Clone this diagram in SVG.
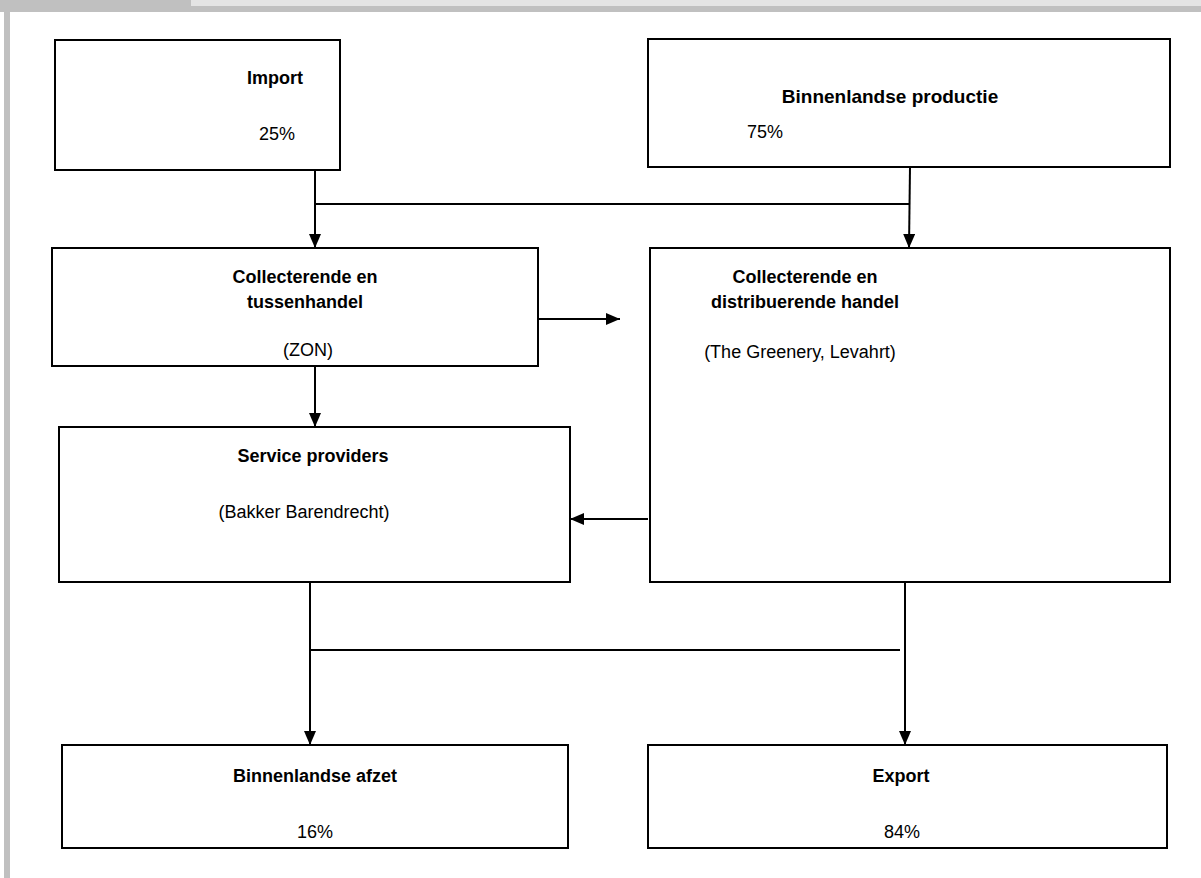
<svg xmlns="http://www.w3.org/2000/svg" width="1201" height="878" viewBox="0 0 1201 878">
<defs>
<marker id="ah" viewBox="0 0 14 12" refX="14" refY="6" markerWidth="14" markerHeight="12" markerUnits="userSpaceOnUse" orient="auto">
<path d="M0,0 L14,6 L0,12 Z" fill="#000"/>
</marker>
<style>
.box{fill:#fff;stroke:#000;stroke-width:2}
.t{font-family:"Liberation Sans",Arial,sans-serif;font-size:18px;fill:#000}
.b{font-weight:bold}
.c{stroke:#000;stroke-width:2;fill:none}
</style>
</defs>
<rect x="0" y="0" width="1201" height="878" fill="#fff"/>
<rect x="0" y="0" width="1201" height="12" fill="#c0c0c0"/>
<rect x="191" y="0" width="1010" height="6" fill="#e4e4e4"/>
<rect x="4" y="0" width="6" height="878" fill="#c0c0c0"/>

<g id="connectors">
<line class="c" x1="315" y1="170" x2="315" y2="248" marker-end="url(#ah)"/>
<line class="c" x1="315" y1="204" x2="910" y2="204"/>
<line class="c" x1="910" y1="167" x2="909" y2="248" marker-end="url(#ah)"/>
<line class="c" x1="538" y1="319" x2="620" y2="319" marker-end="url(#ah)"/>
<line class="c" x1="315" y1="366" x2="315" y2="427" marker-end="url(#ah)"/>
<line class="c" x1="648" y1="519" x2="570" y2="519" marker-end="url(#ah)"/>
<line class="c" x1="310" y1="582" x2="310" y2="745" marker-end="url(#ah)"/>
<line class="c" x1="905" y1="582" x2="905" y2="745" marker-end="url(#ah)"/>
<line class="c" x1="310" y1="650" x2="900" y2="650"/>
</g>

<g id="import">
<rect class="box" x="55" y="40" width="285" height="130"/>
<text class="t b" x="275" y="84" text-anchor="middle">Import</text>
<text class="t" x="277" y="140" text-anchor="middle">25%</text>
</g>
<g id="binnenlandse-productie">
<rect class="box" x="648" y="39" width="522" height="128"/>
<text class="t b" x="890" y="103" text-anchor="middle" style="font-size:19px">Binnenlandse productie</text>
<text class="t" x="765" y="138" text-anchor="middle">75%</text>
</g>
<g id="collecterende-tussenhandel">
<rect class="box" x="52" y="248" width="486" height="118"/>
<text class="t b" x="305" y="283" text-anchor="middle">Collecterende en</text>
<text class="t b" x="305" y="308" text-anchor="middle">tussenhandel</text>
<text class="t" x="308" y="356" text-anchor="middle">(ZON)</text>
</g>
<g id="collecterende-distribuerende">
<rect class="box" x="650" y="248" width="520" height="334"/>
<text class="t b" x="805" y="283" text-anchor="middle">Collecterende en</text>
<text class="t b" x="805" y="308" text-anchor="middle">distribuerende handel</text>
<text class="t" x="800" y="358" text-anchor="middle">(The Greenery, Levahrt)</text>
</g>
<g id="service-providers">
<rect class="box" x="59" y="427" width="511" height="155"/>
<text class="t b" x="313" y="462" text-anchor="middle">Service providers</text>
<text class="t" x="304" y="518" text-anchor="middle">(Bakker Barendrecht)</text>
</g>
<g id="binnenlandse-afzet">
<rect class="box" x="62" y="745" width="506" height="103"/>
<text class="t b" x="315" y="782" text-anchor="middle">Binnenlandse afzet</text>
<text class="t" x="315" y="838" text-anchor="middle">16%</text>
</g>
<g id="export">
<rect class="box" x="648" y="745" width="519" height="103"/>
<text class="t b" x="901" y="782" text-anchor="middle">Export</text>
<text class="t" x="902" y="838" text-anchor="middle">84%</text>
</g>
</svg>
